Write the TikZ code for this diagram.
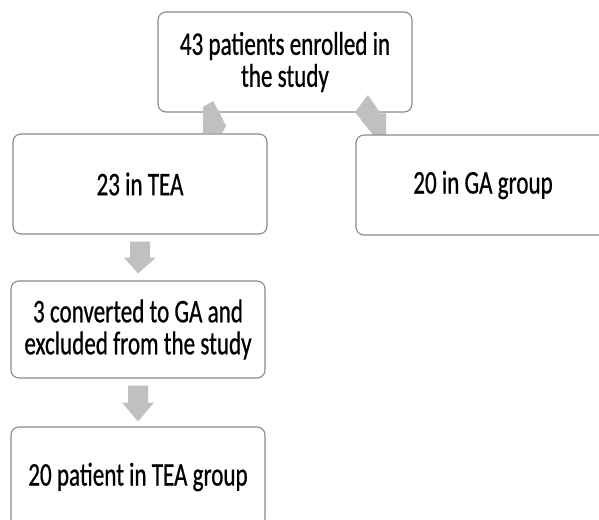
\documentclass[tikz,border=0pt]{standalone}
\usepackage{fontspec}
\setmainfont{Carlito}[FakeStretch=0.7, FakeBold=0.6]
\usetikzlibrary{calc}
\definecolor{boxline}{HTML}{8A8A8A}
\definecolor{arrowgray}{HTML}{C0C0C0}
\tikzset{
  flowbox/.style={draw=boxline, line width=1.1pt, fill=white, rounded corners=8pt,
    minimum width=254pt, minimum height=100pt, align=center, inner sep=0pt,
    font=\fontsize{33}{32}\selectfont, text=black},
  blockarrow/.style={fill=arrowgray, draw=none}
}
\begin{document}
\begin{tikzpicture}[x=1pt,y=-1pt]
\useasboundingbox (0,0) rectangle (599,519);
\clip (0,0) rectangle (599,519);
\fill[white] (0,0) rectangle (599,519);
% top box
\node[flowbox] (top) at (285,62) {43 patients enrolled in\\the study};
% diagonal connectors (visible parts)
\fill[blockarrow] (203,107) -- (213,101) -- (219,112) -- (226,126) -- (222,133) -- (203,133) -- cycle;
\fill[blockarrow] (355,112) -- (368,95) -- (381,114) -- (386,112) -- (386,135) -- (373,135) -- cycle;
% second level
\node[flowbox] (tea) at (140,184) {23 in TEA};
\node[flowbox] (ga) at (483,185) {20 in GA group};
\node[flowbox, minimum height=97pt] (conv) at (138,329.5) {3 converted to GA and\\excluded from the study};
\node[flowbox] (final) at (138,477) {20 patient in TEA group};
% down arrows
\fill[blockarrow] ($(tea.south)+(-10,7)$) -- ($(tea.south)+(10,7)$) -- ($(tea.south)+(10,23)$)
  -- ($(tea.south)+(16,23)$) -- ($(conv.north)+(0,-7)$) -- ($(tea.south)+(-16,23)$)
  -- ($(tea.south)+(-10,23)$) -- cycle;
\fill[blockarrow] ($(conv.south)+(-10,7)$) -- ($(conv.south)+(10,7)$) -- ($(conv.south)+(10,24)$)
  -- ($(conv.south)+(16,24)$) -- ($(final.north)+(0,-5)$) -- ($(conv.south)+(-16,24)$)
  -- ($(conv.south)+(-10,24)$) -- cycle;
\end{tikzpicture}
\end{document}
